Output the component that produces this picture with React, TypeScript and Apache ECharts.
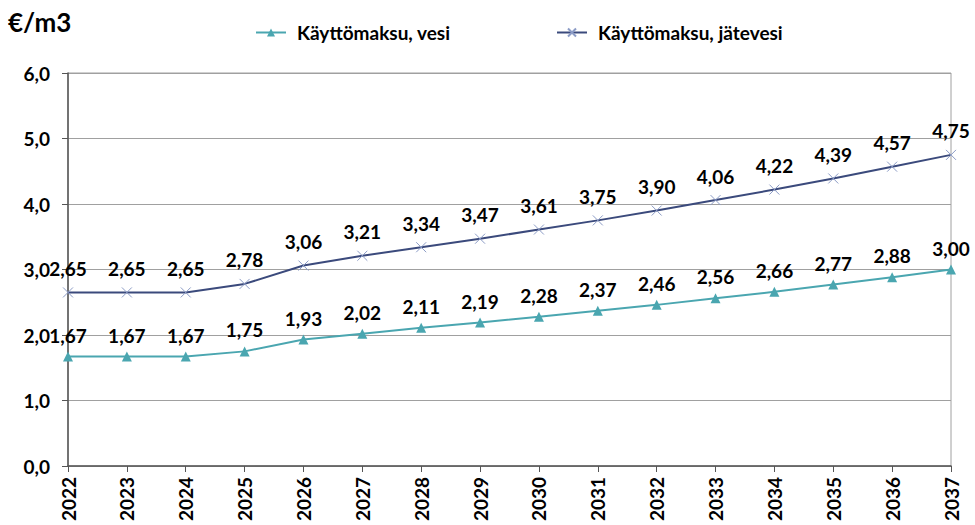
import React, { useEffect, useRef } from "react";
import * as echarts from "echarts";

const years = ["2022","2023","2024","2025","2026","2027","2028","2029","2030","2031","2032","2033","2034","2035","2036","2037"];
const vesi = [1.67,1.67,1.67,1.75,1.93,2.02,2.11,2.19,2.28,2.37,2.46,2.56,2.66,2.77,2.88,3.00];
const jatevesi = [2.65,2.65,2.65,2.78,3.06,3.21,3.34,3.47,3.61,3.75,3.90,4.06,4.22,4.39,4.57,4.75];
const seriesNames = ["Käyttömaksu, vesi", "Käyttömaksu, jätevesi"];

const FONT = "Lato, 'Noto Sans', sans-serif";
const fmt2 = (v: number) => v.toFixed(2).replace(".", ",");

export default function App() {
  const ref = useRef<HTMLDivElement>(null);
  useEffect(() => {
    if (!ref.current) return;
    const chart = echarts.init(ref.current, undefined, { renderer: "svg" });
    const labelStyle = {
      show: true,
      position: "top" as const,
      distance: 7,
      fontFamily: FONT,
      fontWeight: "bold" as const,
      fontSize: 19,
      color: "#000",
      formatter: (p: any) => fmt2(p.value),
    };
    const legendText = { fontFamily: FONT, fontWeight: "bold", fontSize: 19, color: "#000", padding: [0, 0, 0, 6] };
    chart.setOption({
      animation: false,
      backgroundColor: "#fff",
      textStyle: { fontFamily: FONT },
      title: {
        text: "€/m3",
        left: 8,
        top: 9,
        padding: 0,
        textStyle: { fontFamily: FONT, fontWeight: "bold", fontSize: 26, color: "#000" },
      },
      legend: [
        {
          top: 23,
          left: 255,
          padding: 0,
          itemWidth: 30,
          itemHeight: 10,
          textStyle: legendText,
          data: [seriesNames[0]],
        },
        {
          top: 23,
          left: 556,
          padding: 0,
          itemWidth: 30,
          itemHeight: 10,
          textStyle: legendText,
          data: [seriesNames[1]],
        },
      ],
      grid: {
        left: 68,
        right: 24,
        top: 73,
        bottom: 59,
        containLabel: false,
        show: true,
        borderColor: "#a0a0a0",
        borderWidth: 1,
      },
      xAxis: {
        type: "category",
        data: years,
        boundaryGap: false,
        axisLine: { lineStyle: { color: "#555", width: 1.5 } },
        axisTick: { show: true, length: 6, lineStyle: { color: "#555" } },
        axisLabel: {
          rotate: 90,
          interval: 0,
          margin: 11,
          fontFamily: FONT,
          fontWeight: "bold",
          fontSize: 19,
          color: "#000",
        },
      },
      yAxis: {
        type: "value",
        min: 0,
        max: 6,
        interval: 1,
        axisLine: { show: true, lineStyle: { color: "#555", width: 1.5 } },
        axisTick: { show: true, length: 6, lineStyle: { color: "#555" } },
        splitLine: { show: true, lineStyle: { color: "#a0a0a0", width: 1 } },
        axisLabel: {
          margin: 18,
          fontFamily: FONT,
          fontWeight: "bold",
          fontSize: 19,
          color: "#000",
          formatter: (v: number) => v.toFixed(1).replace(".", ","),
        },
      },
      series: [
        {
          name: seriesNames[0],
          type: "line",
          data: vesi,
          symbol: "triangle",
          symbolSize: 10,
          lineStyle: { color: "#4aa6b0", width: 2 },
          itemStyle: { color: "#4aa6b0" },
          label: labelStyle,
        },
        {
          name: seriesNames[1],
          type: "line",
          data: jatevesi,
          symbol: "path://M0,0L10,10M10,0L0,10",
          symbolSize: 10,
          lineStyle: { color: "#3b4a7c", width: 2 },
          itemStyle: { color: "none", borderColor: "#8c9cc6", borderWidth: 1 },
          label: labelStyle,
        },
      ],
    });
    return () => chart.dispose();
  }, []);
  return <div ref={ref} style={{ position: "absolute", left: 0, top: 0, width: 975, height: 525 }} />;
}
